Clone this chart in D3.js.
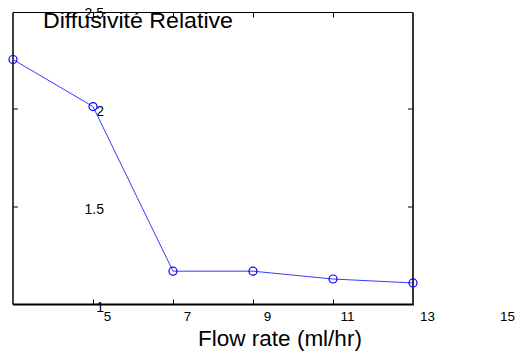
<!DOCTYPE html>
<html>
<head>
<meta charset="utf-8">
<script src="https://cdn.jsdelivr.net/npm/d3@7"></script>
<style>
  body { margin: 0; background: #fff; }
  svg { display: block; font-family: "Liberation Sans", Arial, sans-serif; }
</style>
</head>
<body>
<script>
const WIDTH = 515;
const HEIGHT = 351;

// data
const flowRates = [3, 5, 7, 9, 11, 13];
const diffusivity = [2.25, 2.01, 1.17, 1.17, 1.13, 1.11];
const xTicks = [5, 7, 9, 11, 13, 15];
const yTicks = [1, 1.5, 2, 2.5];

const LEFT = 13, RIGHT = 413, TOP = 12.5, BOTTOM = 304.5;

var svg = d3.select("body").append("svg").attr("width", WIDTH).attr("height", HEIGHT);

var x = d3.scaleLinear().domain([3, 13]).range([LEFT, RIGHT]);
var y = d3.scaleLinear().domain([1, 2.5]).range([BOTTOM, 10.5]);

// bottom axis: inward ticks, labels pushed right of their ticks
var xAxis = svg.append("g")
  .attr("transform", "translate(0," + BOTTOM + ")")
  .call(d3.axisBottom(x).tickValues(xTicks).tickSizeInner(-5).tickSizeOuter(0).tickPadding(7));
xAxis.select(".domain").remove();
xAxis.selectAll(".tick line")
  .attr("stroke", "#000")
  .attr("display", function(d) { return d < 13 ? null : "none"; });
xAxis.selectAll(".tick text")
  .attr("x", 14)
  .attr("font-size", 13.5)
  .attr("font-family", "Liberation Sans, Arial, sans-serif")
  .attr("fill", "#000");

// top inward ticks
var xTop = svg.append("g")
  .attr("transform", "translate(0," + TOP + ")")
  .call(d3.axisTop(x).tickValues(xTicks.filter(function(d) { return d < 13; })).tickSizeInner(-5).tickSizeOuter(0).tickFormat(""));
xTop.select(".domain").remove();

// left axis: labels sit well inside the box
var yAxis = svg.append("g")
  .attr("transform", "translate(" + LEFT + ",0)")
  .call(d3.axisLeft(y).tickValues(yTicks).tickSizeInner(-5).tickSizeOuter(0).tickFormat(d3.format("")));
yAxis.select(".domain").remove();
yAxis.selectAll(".tick line")
  .attr("display", function(d) { return (d > 1 && d < 2.5) ? null : "none"; });
yAxis.selectAll(".tick text")
  .attr("x", 91)
  .attr("dy", "0.5em")
  .attr("font-size", 14)
  .attr("font-family", "Liberation Sans, Arial, sans-serif")
  .attr("fill", "#000");

// right inward ticks
var yRight = svg.append("g")
  .attr("transform", "translate(" + RIGHT + ",0)")
  .call(d3.axisRight(y).tickValues([1.5, 2]).tickSizeInner(-5).tickSizeOuter(0).tickFormat(""));
yRight.select(".domain").remove();

// frame
svg.append("line").attr("x1", LEFT).attr("x2", RIGHT).attr("y1", TOP).attr("y2", TOP)
  .attr("stroke", "#000").attr("stroke-width", 1);
svg.append("line").attr("x1", LEFT).attr("x2", LEFT).attr("y1", TOP).attr("y2", BOTTOM)
  .attr("stroke", "#000").attr("stroke-width", 1.5);
svg.append("line").attr("x1", LEFT).attr("x2", RIGHT + 1).attr("y1", BOTTOM).attr("y2", BOTTOM)
  .attr("stroke", "#000").attr("stroke-width", 2);
svg.append("line").attr("x1", RIGHT).attr("x2", RIGHT).attr("y1", TOP).attr("y2", BOTTOM)
  .attr("stroke", "#333").attr("stroke-width", 2);

// series
var pts = flowRates.map(function(d, i) { return [d, diffusivity[i]]; });
svg.append("path")
  .datum(pts)
  .attr("fill", "none")
  .attr("stroke", "#3a3aff")
  .attr("stroke-width", 1)
  .attr("d", d3.line().x(function(d) { return x(d[0]); }).y(function(d) { return y(d[1]); }));

svg.append("g").selectAll("circle")
  .data(pts)
  .enter().append("circle")
  .attr("cx", function(d) { return x(d[0]); })
  .attr("cy", function(d) { return y(d[1]); })
  .attr("r", 4)
  .attr("fill", "none")
  .attr("stroke", "#0000ff")
  .attr("stroke-width", 1.2);

// titles
svg.append("text")
  .attr("x", 43)
  .attr("y", 27.5)
  .attr("font-size", 22)
  .attr("textLength", 190)
  .attr("lengthAdjust", "spacingAndGlyphs")
  .attr("fill", "#000")
  .text("Diffusivité Relative");

svg.append("text")
  .attr("x", 280)
  .attr("y", 346)
  .attr("text-anchor", "middle")
  .attr("font-size", 22.5)
  .attr("fill", "#000")
  .text("Flow rate (ml/hr)");
</script>
</body>
</html>
